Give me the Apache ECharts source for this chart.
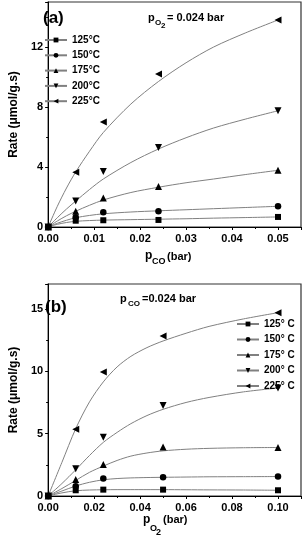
<!DOCTYPE html>
<html><head><meta charset="utf-8">
<script src="https://cdn.jsdelivr.net/npm/echarts@6/dist/echarts.min.js"></script>
<style>html,body{margin:0;padding:0;background:#fff}#c{width:304px;height:540px}</style>
</head><body><div id="c"></div>
<script>
// ---------- Panel (a): p_O2 = 0.024 bar, x = p_CO (bar) ----------
const xA = [0, 0.006, 0.012, 0.024, 0.05];           // measured points
const a125 = [0, 0.42, 0.45, 0.47, 0.67];
const a150 = [0, 0.65, 0.98, 1.05, 1.38];
const a175 = [0, 1.05, 1.93, 2.70, 3.78];
const a200 = [0, 1.73, 3.70, 5.30, 7.75];
const a225 = [0, 3.65, 7.00, 10.20, 13.80];
// fitted curves
const fxA = [0, 0.002, 0.004, 0.006, 0.009, 0.012, 0.018, 0.024, 0.03, 0.036, 0.043, 0.05];
const fa125 = [0, 0.18, 0.30, 0.38, 0.43, 0.46, 0.49, 0.52, 0.55, 0.59, 0.63, 0.67];
const fa150 = [0, 0.25, 0.45, 0.62, 0.77, 0.88, 1.00, 1.08, 1.15, 1.22, 1.30, 1.38];
const fa175 = [0, 0.40, 0.75, 1.05, 1.45, 1.80, 2.30, 2.65, 2.95, 3.20, 3.50, 3.78];
const fa200 = [0, 0.62, 1.20, 1.73, 2.50, 3.20, 4.30, 5.20, 5.95, 6.60, 7.20, 7.75];
const fa225 = [0, 1.38, 2.60, 3.67, 5.05, 6.30, 8.20, 9.70, 10.95, 12.00, 12.95, 13.80];
const namesA = ['125°C', '150°C', '175°C', '200°C', '225°C'];

// ---------- Panel (b): p_CO = 0.024 bar, x = p_O2 (bar) ----------
const xB = [0, 0.012, 0.024, 0.05, 0.1];
const b125 = [0, 0.46, 0.51, 0.51, 0.46];
const b150 = [0, 0.78, 1.40, 1.50, 1.56];
const b175 = [0, 1.32, 2.52, 3.92, 3.89];
const b200 = [0, 2.18, 4.72, 7.26, 8.66];
const b225 = [0, 5.36, 9.95, 12.84, 14.70];
const fxB = [0, 0.006, 0.012, 0.018, 0.024, 0.03, 0.036, 0.043, 0.05, 0.06, 0.07, 0.085, 0.1];
const fb125 = [0, 0.25, 0.42, 0.48, 0.50, 0.51, 0.51, 0.51, 0.51, 0.50, 0.49, 0.48, 0.46];
const fb150 = [0, 0.40, 0.80, 1.10, 1.30, 1.40, 1.45, 1.48, 1.50, 1.52, 1.54, 1.55, 1.56];
const fb175 = [0, 0.60, 1.25, 1.90, 2.40, 2.85, 3.20, 3.45, 3.62, 3.75, 3.82, 3.87, 3.89];
const fb200 = [0, 1.00, 2.10, 3.25, 4.30, 5.10, 5.80, 6.45, 6.95, 7.50, 7.90, 8.35, 8.66];
const fb225 = [0, 2.70, 5.40, 7.55, 9.15, 10.35, 11.20, 11.90, 12.43, 13.05, 13.60, 14.20, 14.70];
const namesB = ['125° C', '150° C', '175° C', '200° C', '225° C'];

const symbols = ['rect', 'circle', 'triangle', 'triangle', 'triangle'];
const rotations = [0, 0, 0, 180, 90];
const sizes = [6, 6.5, 7, 7, 7];
const FONT = "'Liberation Sans', Arial, sans-serif";

function mk(names, xs, sets, fxs, fits, idx, tag) {
  const out = [];
  fits.forEach((vals, i) => out.push({
    name: names[i], type: 'line', xAxisIndex: idx, yAxisIndex: idx,
    smooth: 0.3,
    data: fxs.map((x, j) => [x, vals[j]]),
    symbol: symbols[i], symbolRotate: rotations[i], symbolSize: sizes[i],
    showSymbol: false,
    itemStyle: {color: '#000'},
    lineStyle: {color: '#808080', width: 1},
    z: 2
  }));
  sets.forEach((vals, i) => out.push({
    name: tag + i, type: 'scatter', xAxisIndex: idx, yAxisIndex: idx,
    data: xs.map((x, j) => [x, vals[j]]),
    symbol: symbols[i], symbolRotate: rotations[i], symbolSize: sizes[i],
    itemStyle: {color: '#000', opacity: 1},
    z: 3
  }));
  return out;
}
const series = mk(namesA, xA, [a125, a150, a175, a200, a225], fxA, [fa125, fa150, fa175, fa200, fa225], 0, 'ptsA')
  .concat(mk(namesB, xB, [b125, b150, b175, b200, b225], fxB, [fb125, fb150, fb175, fb200, fb225], 1, 'ptsB'));

const lbl = {color: '#000', fontWeight: 'bold', fontSize: 11, fontFamily: FONT};
function xAx(idx, max, interval) {
  return {gridIndex: idx, type: 'value', min: 0, max: max, interval: interval,
    axisLine: {lineStyle: {color: '#000', width: 1}},
    axisTick: {length: 3, lineStyle: {color: '#000'}},
    minorTick: {show: true, splitNumber: 2, length: 2, lineStyle: {color: '#000'}},
    splitLine: {show: false},
    axisLabel: Object.assign({margin: 6, showMaxLabel: false, formatter: v => v.toFixed(2)}, lbl)};
}
function yAx(idx, max, interval) {
  return {gridIndex: idx, type: 'value', min: 0, max: max, interval: interval,
    name: 'Rate (μmol/g.s)', nameLocation: 'middle', nameGap: 23,
    nameTextStyle: {color: '#000', fontWeight: 'bold', fontSize: 12, fontFamily: FONT},
    axisLine: {lineStyle: {color: '#000', width: 1}},
    axisTick: {length: 3, lineStyle: {color: '#000'}},
    minorTick: {show: true, splitNumber: 2, length: 2, lineStyle: {color: '#000'}},
    splitLine: {show: false},
    axisLabel: Object.assign({margin: 5, showMaxLabel: false}, lbl)};
}
const legTxt = {color: '#000', fontWeight: 'bold', fontSize: 10, fontFamily: FONT};
function T(x, y, text, size) {
  return {type: 'text', x: x, y: y, style: {text: text, fill: '#000',
    font: 'bold ' + size + 'px ' + FONT, verticalAlign: 'bottom'}};
}
const chart = echarts.init(document.getElementById('c'), null, {renderer: 'canvas'});
chart.setOption({
  animation: false,
  grid: [
    {left: 39, top: 2, width: 262, height: 225, show: true, borderColor: '#333', borderWidth: 1.2},
    {left: 39, top: 284, width: 262, height: 212, show: true, borderColor: '#333', borderWidth: 1.2}
  ],
  xAxis: [xAx(0, 0.055, 0.01), xAx(1, 0.11, 0.02)],
  yAxis: [yAx(0, 15, 4), yAx(1, 17, 5)],
  legend: [
    {data: namesA, orient: 'vertical', left: 44, top: 35, itemWidth: 22, itemHeight: 6, itemGap: 5.3, textStyle: legTxt, padding: 0, selectedMode: false},
    {data: namesB, orient: 'vertical', left: 236, top: 319, itemWidth: 22, itemHeight: 6, itemGap: 5.5, textStyle: legTxt, padding: 0, selectedMode: false}
  ],
  graphic: [
    T(43, 27, '(a)', 17),
    T(148, 23, 'p', 11), T(155, 27, 'O', 8), T(161, 30, '2', 8), T(167, 23, '= 0.024 bar', 11),
    T(45, 316, '(b)', 17),
    T(120, 304, 'p', 11), T(128, 308, 'CO', 8), T(142, 304, '=0.024 bar', 11),
    T(145, 262, 'p', 12), T(152, 266, 'CO', 9), T(167, 262, '(bar)', 11),
    T(143, 526, 'p', 12), T(150, 533, 'O', 9), T(156, 537, '2', 9), T(163, 525, '(bar)', 11)
  ],
  series: series
});
</script></body></html>
